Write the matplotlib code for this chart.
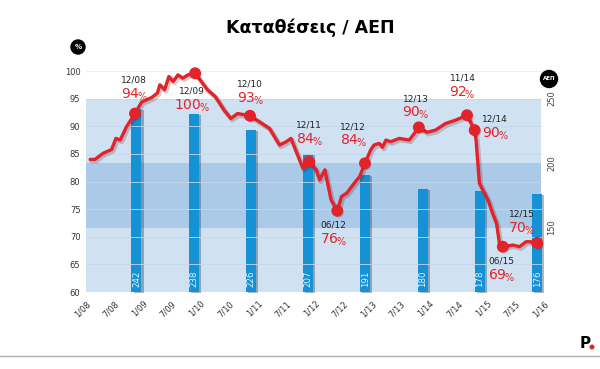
import matplotlib
matplotlib.use("Agg")
import matplotlib.pyplot as plt
import matplotlib.patheffects as pe
from matplotlib.patches import Ellipse

# ---------------- data ----------------
# month index: 0 = Jan 2008
line_months = [2.3, 3.3, 5.0, 6.8, 7.7, 8.6, 9.9, 11.7, 13.1, 15.2, 16.4, 16.9, 17.9, 18.8,
               19.7, 20.7, 21.7, 22.8, 24.3, 26.9, 28.6, 30.4, 31.8, 33.2, 35.8, 37.8, 39.9,
               42.0, 43.4, 44.4, 46.9, 48.2, 49.7, 50.4, 51.5, 52.8, 54.1, 55.0, 56.1, 57.4,
               58.8, 59.9, 61.1, 61.8, 62.9, 63.6, 64.3, 65.3, 67.1, 69.2, 71.2, 72.9, 74.7,
               76.8, 78.9, 81.3, 82.9, 83.2, 83.9, 84.6, 85.7, 86.7, 87.5, 88.1, 88.8, 90.9,
               92.3, 93.7, 94.7, 95.4, 96.0, 97.9]
line_values = [84.0, 84.0, 85.1, 85.8, 87.8, 87.5, 89.9, 92.3, 94.4, 95.2, 96.0, 97.5, 96.6, 99.0,
               98.1, 99.3, 98.7, 99.3, 99.6, 96.6, 95.3, 92.9, 91.4, 92.3, 91.9, 90.8, 89.6,
               86.6, 87.2, 87.8, 82.4, 83.6, 82.1, 80.3, 82.1, 76.7, 74.7, 77.3, 77.9, 79.4,
               80.9, 83.3, 85.7, 86.6, 86.9, 86.2, 87.5, 87.2, 87.8, 87.5, 89.8, 88.9, 89.3,
               90.5, 91.1, 92.0, 89.3, 87.5, 79.7, 78.5, 76.7, 74.2, 72.4, 68.8, 68.2, 68.5,
               68.2, 69.1, 69.1, 68.7, 68.9, 68.7]

marker_months = [11.7, 24.3, 35.8, 48.2, 54.1, 59.9, 71.2, 81.3, 82.9, 88.8, 96.0]
marker_values = [92.3, 99.6, 91.9, 83.6, 74.7, 83.3, 89.8, 92.0, 89.3, 68.2, 68.9]
marker_dates = ["12/08", "12/09", "12/10", "12/11", "06/12", "12/12", "12/13", "11/14", "12/14", "06/15", "12/15"]
marker_pct = ["94", "100", "93", "84", "76", "84", "90", "92", "90", "69", "70"]

bar_months = [12, 24, 36, 48, 60, 72, 84, 96]
bar_values = [242, 238, 226, 207, 191, 180, 178, 176]

xtick_months = list(range(0, 97, 6))
xtick_labels = ["1/08", "7/08", "1/09", "7/09", "1/10", "7/10", "1/11", "7/11", "1/12",
                "7/12", "1/13", "7/13", "1/14", "7/14", "1/15", "7/15", "1/16"]
left_ticks = [60, 65, 70, 75, 80, 85, 90, 95, 100]
right_ticks = [150, 200, 250]

# ---------------- style ----------------
RED = "#e3232a"
BLUE = "#1591d6"
LIGHT = "#d0e1f2"
DARK = "#abcae8"

W, H = 600, 369
fig = plt.figure(figsize=(6, 3.69), dpi=100)
fig.patch.set_facecolor("white")

def px2fig(x, y):
    return x / W, 1 - y / H

L_px, R_px, T_px, B_px = 86, 543, 60, 292
x_lo = (L_px - 79.2) / 4.77
x_hi = (R_px - 79.2) / 4.77
y_top = 100 + (71 - T_px) / 5.525

ax = fig.add_axes([L_px / W, 1 - B_px / H, (R_px - L_px) / W, (B_px - T_px) / H])
ax.set_xlim(x_lo, x_hi)
r_top = 100 + (y_top - 60) * 150 / 35
ax.set_ylim(100, r_top)
for s in ax.spines.values():
    s.set_visible(False)
ax.set_xticks([])

band_x = [x_lo, 96.8]
ax.fill_between(band_x, 100, 150, color=LIGHT, lw=0, zorder=0)
ax.fill_between(band_x, 150, 200, color=DARK, lw=0, zorder=0)
ax.fill_between(band_x, 200, 250, color=LIGHT, lw=0, zorder=0)

bars = ax.bar(bar_months, [v - 100 for v in bar_values], bottom=100, width=2.1, color=BLUE,
              zorder=3, clip_on=False)
for b in bars:
    b.set_path_effects([pe.SimplePatchShadow(offset=(1.5, -1), shadow_rgbFace="#203040", alpha=0.35),
                        pe.Normal()])
for m, v in zip(bar_months, bar_values):
    ax.text(m, 104, str(v), rotation=90, ha="center", va="bottom", fontsize=6.2,
            color="#dff6ff", zorder=4)

ax2 = ax.twinx()
ax2.set_xlim(x_lo, x_hi)
ax2.set_ylim(60, y_top)
for s in ax2.spines.values():
    s.set_visible(False)
ax2.yaxis.tick_left()
ax2.set_yticks(left_ticks)
ax2.set_yticklabels([str(t) for t in left_ticks], fontsize=6, color="#333")
ax2.tick_params(axis="y", length=0, pad=4)
for t in left_ticks:
    c = "#eceef2" if t == 100 else "#c2d8ee"
    ax2.plot(band_x, [t, t], color=c, lw=0.6, zorder=1)

# right axis ticks (set after twinx)
ax.yaxis.tick_right()
ax.set_yticks(right_ticks)
ax.set_yticklabels([str(t) for t in right_ticks], rotation=90, va="center", fontsize=6, color="#444")
ax.tick_params(axis="y", left=False, labelleft=False, right=False, labelright=True, length=0, pad=3)

shadow = [pe.SimpleLineShadow(offset=(1, -1.2), shadow_color="#500000", alpha=0.2, linewidth=3.5),
          pe.Normal()]
ax2.plot(line_months, line_values, color=RED, lw=2.4, solid_joinstyle="round",
         solid_capstyle="round", zorder=5, path_effects=shadow)
ax2.plot(marker_months, marker_values, "o", color=RED, ms=7.5, zorder=6,
         path_effects=[pe.SimplePatchShadow(offset=(1, -1.2), alpha=0.2), pe.Normal()])

ann_px = [(134, 80), (192, 91.5), (250, 84), (309, 125.5), (333.5, 225), (353, 126.5),
          (415.5, 98.5), (462.5, 78), (495, 119), (501, 261.5), (521.5, 214)]
for (px, py), d, p in zip(ann_px, marker_dates, marker_pct):
    fx, fy = px2fig(px, py)
    fig.text(fx, fy, d, ha="center", va="center", fontsize=6.5, color="#222")
    fx2, fy2 = px2fig(px, py + 14.5)
    fig.text(fx2, fy2, p + r"$_{\!\mathregular{\%}}$", ha="center", va="center", fontsize=10,
             color=RED)

for m, lab in zip(xtick_months, xtick_labels):
    ax.text(m + 1.4, -0.03, lab, transform=ax.get_xaxis_transform(), rotation=45,
            rotation_mode="anchor", ha="right", va="top", fontsize=6, color="#333",
            clip_on=False)

fig.text(*px2fig(310, 28), "Καταθέσεις / ΑΕΠ", ha="center", va="center", fontsize=12.5,
         fontweight="bold", color="black")

for (cx, cy), txt, r, fs in [((78, 47), "%", 7, 5), ((549, 79), "ΑΕΠ", 8.5, 4)]:
    fx, fy = px2fig(cx, cy)
    fig.add_artist(Ellipse((fx, fy), 2 * r / W, 2 * r / H, transform=fig.transFigure, color="black"))
    fig.text(fx, fy, txt, ha="center", va="center", fontsize=fs, fontweight="bold", color="white")

fig.add_artist(plt.Line2D([0, 1], [1 - 356 / H, 1 - 356 / H], transform=fig.transFigure,
                          color="#b0b0b0", lw=1))
fig.text(*px2fig(585, 343), "P", ha="center", va="center", fontsize=11, fontweight="bold",
         color="black")
fig.add_artist(Ellipse(px2fig(592, 347), 3.5 / W, 3.5 / H, transform=fig.transFigure, color=RED))

fig.savefig("out.png", dpi=100, facecolor="white")
